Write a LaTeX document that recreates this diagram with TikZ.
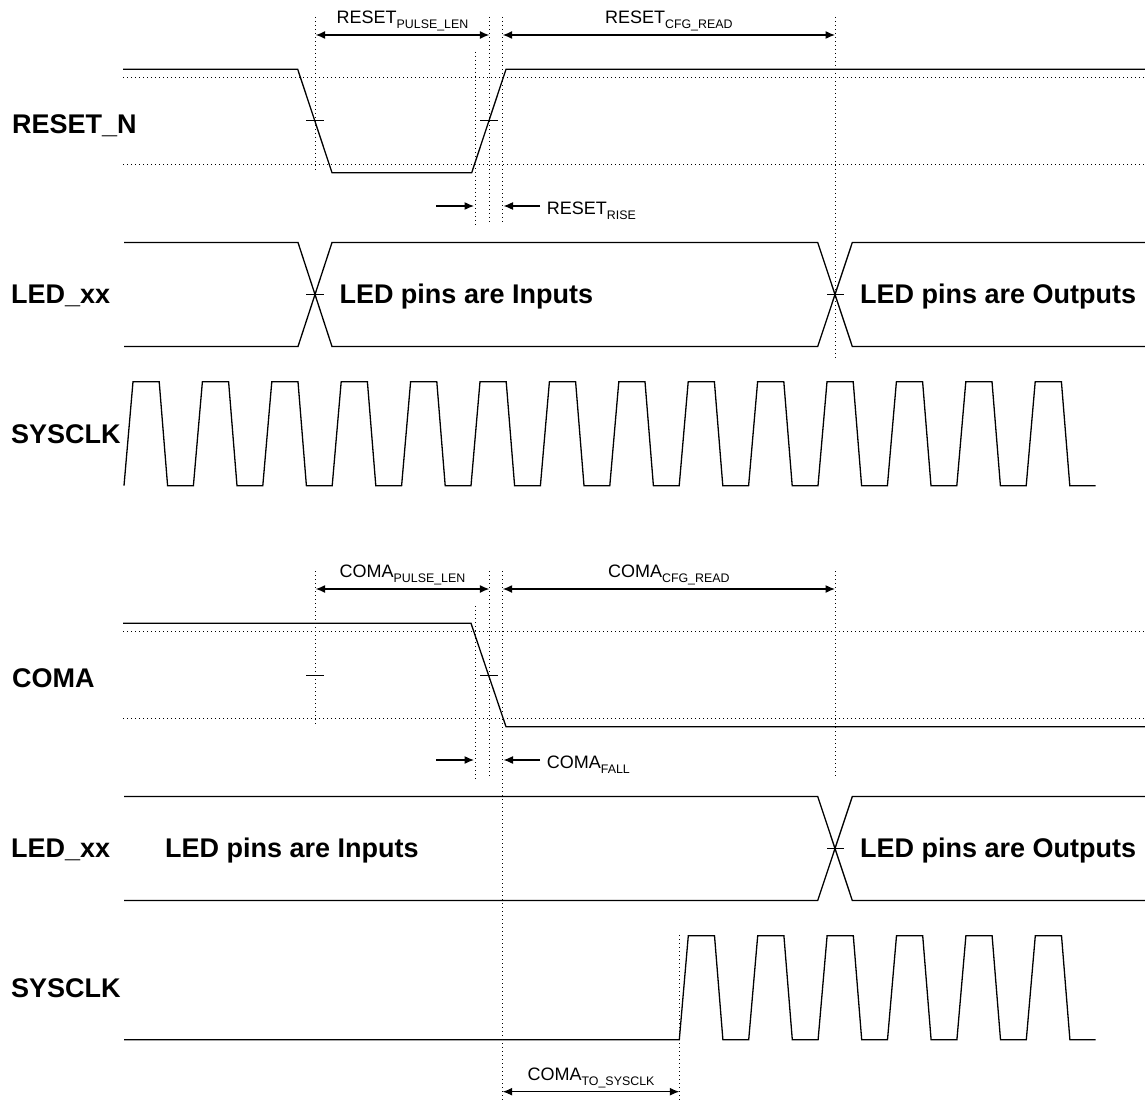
\documentclass[tikz,border=0pt]{standalone}
\usepackage{fontspec}
\setmainfont{Liberation Sans}
\usepackage{tikz}
\usetikzlibrary{arrows.meta}
\newcommand{\siglbl}[2]{\fontsize{18}{18}\selectfont #1\raisebox{-5pt}{\fontsize{12.4}{12.4}\selectfont #2}}
\tikzset{
  sig/.style={line width=1.3pt},
  guide/.style={line width=1pt, dash pattern=on 1pt off 3pt},
  dimline/.style={line width=1.2pt},
  tickmark/.style={line width=1pt},
  bigtxt/.style={font=\fontsize{27}{27}\selectfont\bfseries, inner sep=0pt, anchor=base west},
  smalltxt/.style={inner sep=0pt, anchor=base},
}

\begin{document}
\begin{tikzpicture}[>={Latex[length=9.5pt,width=8pt]}, x=1pt, y=-1pt]
\useasboundingbox (0,0) rectangle (1145,1107);

\begin{scope}
  \draw[guide] (123,77.7) -- (1145,77.7);
  \draw[guide] (123,164.3) -- (1145,164.3);
  \draw[guide] (315.7,17) -- (315.7,170);
  \draw[guide] (475,52) -- (475,225);
  \draw[guide] (489.3,17) -- (489.3,225);
  \draw[guide] (502.7,17) -- (502.7,225);
  \draw[guide] (835,17) -- (835,361);

  \node[bigtxt] (rstlbl) at (12,133.3) {RESET\_N};
  \node[bigtxt] (ledlbl) at (11,303.3) {LED\_xx};
  \node[bigtxt] (clklbl) at (11,443.3) {SYSCLK};

  \draw[sig] (123,69.3) -- (297.7,69.3) -- (332,172.7) -- (471.7,172.7) -- (506,69.3) -- (1145,69.3);
  \draw[tickmark] (306,121) -- (324,121);
  \draw[tickmark] (480,121) -- (498,121);

  \coordinate (pl) at (315.7,35);
  \coordinate (pr) at (489.3,35);
  \coordinate (cl) at (502.7,35);
  \coordinate (cr) at (835,35);
  \draw[dimline,<->] (pl) -- (pr);
  \draw[dimline,<->] (cl) -- (cr);
  \node[smalltxt] (pulselbl) at (402.5,23.3) {\siglbl{RESET}{PULSE\_LEN}};
  \node[smalltxt] (cfglbl) at (668.8,23.3) {\siglbl{RESET}{CFG\_READ}};

  \coordinate (ra) at (436,206);
  \coordinate (rb) at (474,206);
  \coordinate (rc) at (540,206);
  \coordinate (rd) at (503.5,206);
  \draw[dimline,->] (ra) -- (rb);
  \draw[dimline,->] (rc) -- (rd);
  \node[smalltxt, anchor=base west] (riselbl) at (546.7,214.3) {\siglbl{RESET}{RISE}};

  \draw[sig] (124,242.5) -- (298,242.5) -- (332,346.5) -- (817.7,346.5) -- (852.3,242.5) -- (1145,242.5);
  \draw[sig] (124,346.5) -- (298,346.5) -- (332,242.5) -- (817.7,242.5) -- (852.3,346.5) -- (1145,346.5);
  \draw[tickmark] (306,294.5) -- (324,294.5);
  \draw[tickmark] (827,294.5) -- (844,294.5);
  \node[bigtxt] (inlbl) at (339.3,303.3) {LED pins are Inputs};
  \node[bigtxt] (outlbl) at (860,303.3) {LED pins are Outputs};

  \draw[sig] (124,485.7) \foreach \k in {1,...,14}{ -- ++(9,-104) -- ++(26.2,0) -- ++(8.4,104) -- ++(25.8,0)};
\end{scope}

\begin{scope}[yshift=-554pt]
  \draw[guide] (123,77.7) -- (1145,77.7);
  \draw[guide] (123,164.3) -- (1145,164.3);
  \draw[guide] (315.7,17) -- (315.7,170);
  \draw[guide] (475,52) -- (475,225);
  \draw[guide] (489.3,17) -- (489.3,225);
  \draw[guide] (502.7,17) -- (502.7,547);
  \draw[guide] (835,17) -- (835,225);
  \draw[guide] (679.3,381) -- (679.3,547);

  \node[bigtxt] (comalbl) at (12,133.3) {COMA};
  \node[bigtxt] (ledlblb) at (11,303.3) {LED\_xx};
  \node[bigtxt] (clklblb) at (11,443.3) {SYSCLK};

  \draw[sig] (123,69.3) -- (471,69.3) -- (506,172.7) -- (1145,172.7);
  \draw[tickmark] (306,121) -- (324,121);
  \draw[tickmark] (480,121) -- (498,121);

  \coordinate (plb) at (315.7,35);
  \coordinate (prb) at (489.3,35);
  \coordinate (clb) at (502.7,35);
  \coordinate (crb) at (835,35);
  \draw[dimline,<->] (plb) -- (prb);
  \draw[dimline,<->] (clb) -- (crb);
  \node[smalltxt] (pulselblb) at (402.5,23.3) {\siglbl{COMA}{PULSE\_LEN}};
  \node[smalltxt] (cfglblb) at (668.8,23.3) {\siglbl{COMA}{CFG\_READ}};

  \coordinate (fa) at (436,206);
  \coordinate (fb) at (474,206);
  \coordinate (fc) at (540,206);
  \coordinate (fd) at (503.5,206);
  \draw[dimline,->] (fa) -- (fb);
  \draw[dimline,->] (fc) -- (fd);
  \node[smalltxt, anchor=base west] (falllbl) at (546.7,214.3) {\siglbl{COMA}{FALL}};

  \draw[sig] (124,242.5) -- (817.7,242.5) -- (852.3,346.5) -- (1145,346.5);
  \draw[sig] (124,346.5) -- (817.7,346.5) -- (852.3,242.5) -- (1145,242.5);
  \draw[tickmark] (827,294.5) -- (844,294.5);
  \node[bigtxt] (inlblb) at (165,303.3) {LED pins are Inputs};
  \node[bigtxt] (outlblb) at (860,303.3) {LED pins are Outputs};

  \draw[sig] (124,485.7) -- (679.3,485.7) \foreach \k in {1,...,6}{ -- ++(9,-104) -- ++(26.2,0) -- ++(8.4,104) -- ++(25.8,0)};

  \coordinate (sa) at (502.7,537.7);
  \coordinate (sb) at (679.3,537.7);
  \draw[dimline,<->] (sa) -- (sb);
  \node[smalltxt] (syslbl) at (591,526.7) {\siglbl{COMA}{TO\_SYSCLK}};
\end{scope}
\end{tikzpicture}
\end{document}
